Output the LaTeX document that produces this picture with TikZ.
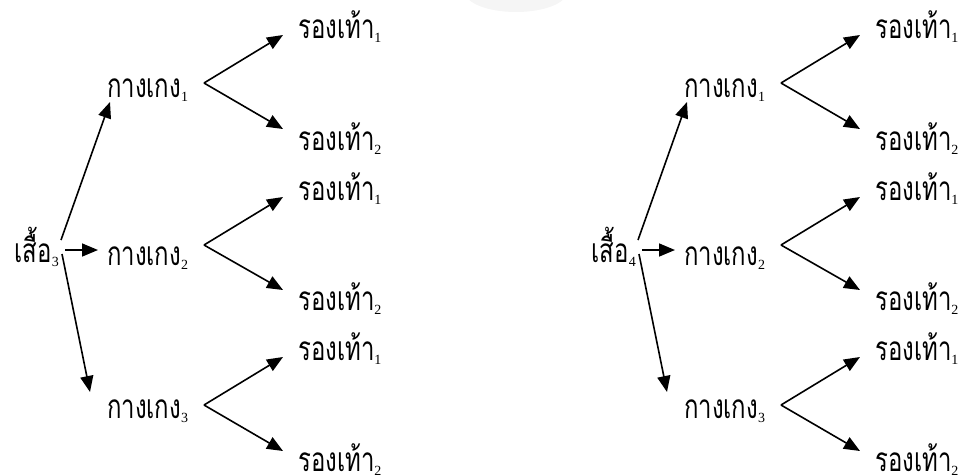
\documentclass[tikz,border=0pt]{standalone}
\usepackage{fontspec}
\setmainfont{Liberation Serif}
\newfontfamily\thaifont[Script=Thai]{Loma}
\usetikzlibrary{arrows.meta}

% Thai word (set tall and narrow) followed by a lowered index digit
\newcommand\thaiidx[2]{\scalebox{1.04}[1.45]{\thaifont #1}\raisebox{-4pt}{\fontsize{14}{14}\selectfont #2}}

\tikzset{
  lbl/.style={inner sep=0pt, font=\fontsize{23}{26}\selectfont},
  arr/.style={line width=1.6pt, -{Triangle[length=16pt,width=13pt]}},
  pics/shirttree/.style={code={
    % shirt, three trousers, six shoes
    \node[lbl, anchor=base east] (s) at (59,262) {\thaiidx{เสื้อ}{#1}};
    \node[lbl, anchor=base west] (p1) at (107,97)  {\thaiidx{กางเกง}{1}};
    \node[lbl, anchor=base west] (p2) at (107,265) {\thaiidx{กางเกง}{2}};
    \node[lbl, anchor=base west] (p3) at (107,418) {\thaiidx{กางเกง}{3}};
    \node[lbl, anchor=base west] (r11) at (298,38)  {\thaiidx{รองเท้า}{1}};
    \node[lbl, anchor=base west] (r12) at (298,150) {\thaiidx{รองเท้า}{2}};
    \node[lbl, anchor=base west] (r21) at (298,200) {\thaiidx{รองเท้า}{1}};
    \node[lbl, anchor=base west] (r22) at (298,310) {\thaiidx{รองเท้า}{2}};
    \node[lbl, anchor=base west] (r31) at (298,360) {\thaiidx{รองเท้า}{1}};
    \node[lbl, anchor=base west] (r32) at (298,471) {\thaiidx{รองเท้า}{2}};
    % branching points
    \coordinate (o1) at ([shift={(2,-22)}]s.base east);
    \coordinate (o2) at ([shift={(6,-12)}]s.base east);
    \coordinate (o3) at ([shift={(3,-8)}]s.base east);
    \coordinate (b1) at ([shift={(97,-14)}]p1.base west);
    \coordinate (b2) at ([shift={(97,-20)}]p2.base west);
    \coordinate (b3) at ([shift={(97,-13)}]p3.base west);
    % shirt to trousers
    \draw[arr] (o1) -- ([shift={(3,5)}]p1.base west);
    \draw[arr] (o2) -- ([shift={(-9,-15)}]p2.base west);
    \draw[arr] (o3) -- ([shift={(-17,-26)}]p3.base west);
    % trousers to shoes
    \draw[arr] (b1) -- ([shift={(-15,-3)}]r11.base west);
    \draw[arr] (b1) -- ([shift={(-15,-21)}]r12.base west);
    \draw[arr] (b2) -- ([shift={(-15,-3)}]r21.base west);
    \draw[arr] (b2) -- ([shift={(-15,-20)}]r22.base west);
    \draw[arr] (b3) -- ([shift={(-15,-3)}]r31.base west);
    \draw[arr] (b3) -- ([shift={(-15,-20)}]r32.base west);
  }}
}

\begin{document}
\begin{tikzpicture}[x=1pt, y=-1pt]
  \useasboundingbox (0,0) rectangle (962,475);
  \fill[black!4] (516,-8) ellipse [x radius=51pt, y radius=20pt];
  \pic (L) at (0,0)   {shirttree=3};
  \pic (R) at (577,0) {shirttree=4};
\end{tikzpicture}
\end{document}
